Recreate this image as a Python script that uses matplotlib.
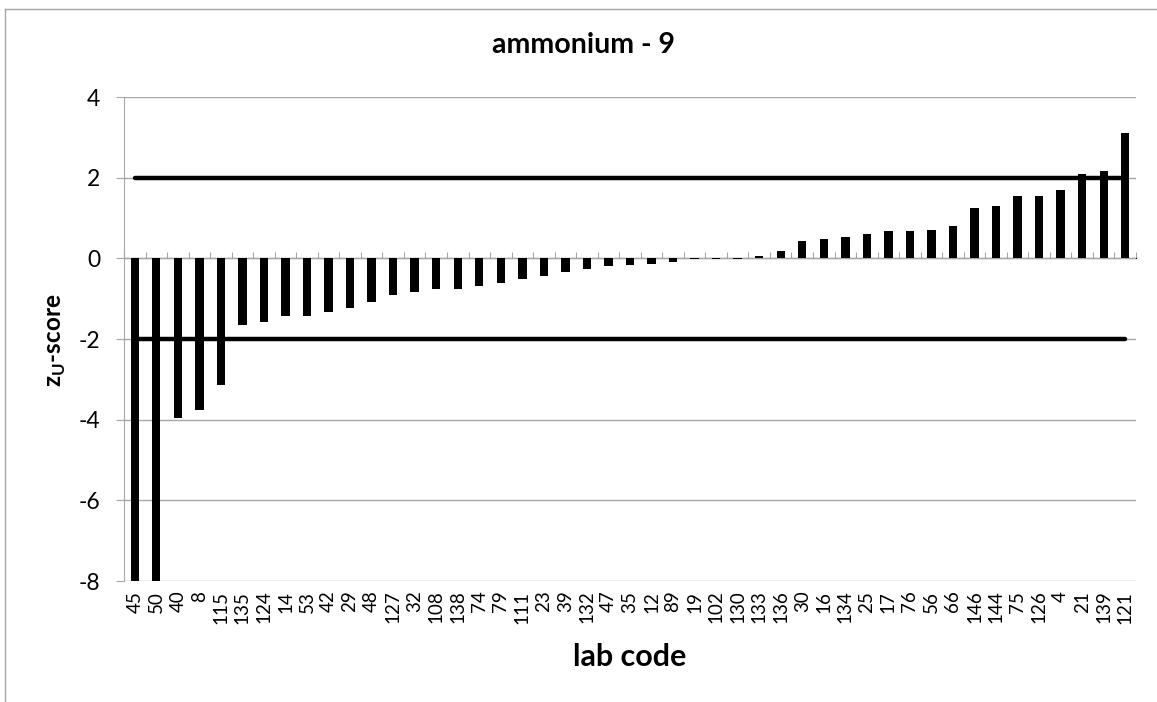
import matplotlib
matplotlib.use('Agg')
import matplotlib.pyplot as plt
from matplotlib.lines import Line2D
import numpy as np

labs = ['45', '50', '40', '8', '115', '135', '124', '14', '53', '42', '29', '48',
        '127', '32', '108', '138', '74', '79', '111', '23', '39', '132', '47', '35',
        '12', '89', '19', '102', '130', '133', '136', '30', '16', '134', '25', '17',
        '76', '56', '66', '146', '144', '75', '126', '4', '21', '139', '121']
zscores = [-10.5, -10.0, -3.96, -3.76, -3.14, -1.65, -1.58, -1.42, -1.42, -1.33, -1.23, -1.09,
           -0.92, -0.84, -0.75, -0.75, -0.68, -0.62, -0.51, -0.43, -0.34, -0.27, -0.18, -0.16,
           -0.14, -0.09, -0.02, -0.01, -0.01, 0.07, 0.19, 0.44, 0.49, 0.54, 0.61, 0.69,
           0.69, 0.71, 0.81, 1.24, 1.30, 1.54, 1.54, 1.70, 2.08, 2.17, 3.10]
limit_hi = 2
limit_lo = -2
yticks = [-8, -6, -4, -2, 0, 2, 4]

plt.rcParams['font.family'] = ['Lato', 'DejaVu Sans']
plt.rcParams['mathtext.fontset'] = 'custom'
plt.rcParams['mathtext.bf'] = 'Lato:bold'
plt.rcParams['mathtext.rm'] = 'Lato:bold'

grey = '#a6a6a6'
fig = plt.figure(figsize=(11.57, 7.02), dpi=100)
ax = fig.add_axes([124/1157, 1 - 581/702, (1136-124)/1157, (581-97)/702])

x = np.arange(len(labs))
ax.bar(x, zscores, width=0.39, color='black', zorder=3)
ax.plot([x[0], x[-1]], [limit_hi, limit_hi], color='black', lw=3.2,
        solid_capstyle='round', zorder=4)
ax.plot([x[0], x[-1]], [limit_lo, limit_lo], color='black', lw=3.2,
        solid_capstyle='round', zorder=4)

ax.set_xlim(-0.5, len(labs) - 0.5)
ax.set_ylim(-8, 4)
ax.set_yticks(yticks)
ax.set_yticklabels([str(v) for v in yticks])
ax.yaxis.grid(True, color=grey, lw=1)
ax.set_axisbelow(True)
ax.tick_params(axis='y', length=6, color=grey, pad=11, labelsize=16.5)

ax.set_xticks(x)
ax.set_xticklabels(labs, rotation=90)
ax.tick_params(axis='x', length=0, pad=7, labelsize=13.5)

for s in ['top', 'right', 'bottom']:
    ax.spines[s].set_visible(False)
ax.spines['left'].set_color(grey)

# category axis drawn through zero with boundary ticks
sec = ax.secondary_xaxis(2/3)
sec.set_xticks(np.arange(len(labs) + 1) - 0.5)
sec.set_xticklabels([])
sec.tick_params(axis='x', direction='out', length=4, color=grey)
sec.spines['bottom'].set_color(grey)

fig.text(584/1157, 1 - 45/702, 'ammonium - 9', ha='center', va='center',
         fontsize=20.5, fontweight='bold')
fig.text(630/1157, 1 - 657/702, 'lab code', ha='center', va='center',
         fontsize=22, fontweight='bold')
fig.text(56/1157, 1 - 340/702, r'z$_\mathbf{U}$-score', ha='center', va='center',
         rotation=90, fontsize=17.5, fontweight='bold')

fig.add_artist(Line2D([4.5/1157, 4.5/1157], [0, 1 - 8.5/702], color=grey, lw=1,
                      transform=fig.transFigure))
fig.add_artist(Line2D([4.5/1157, 1], [1 - 8.5/702, 1 - 8.5/702], color=grey, lw=1,
                      transform=fig.transFigure))

fig.savefig('out.png', dpi=100)
